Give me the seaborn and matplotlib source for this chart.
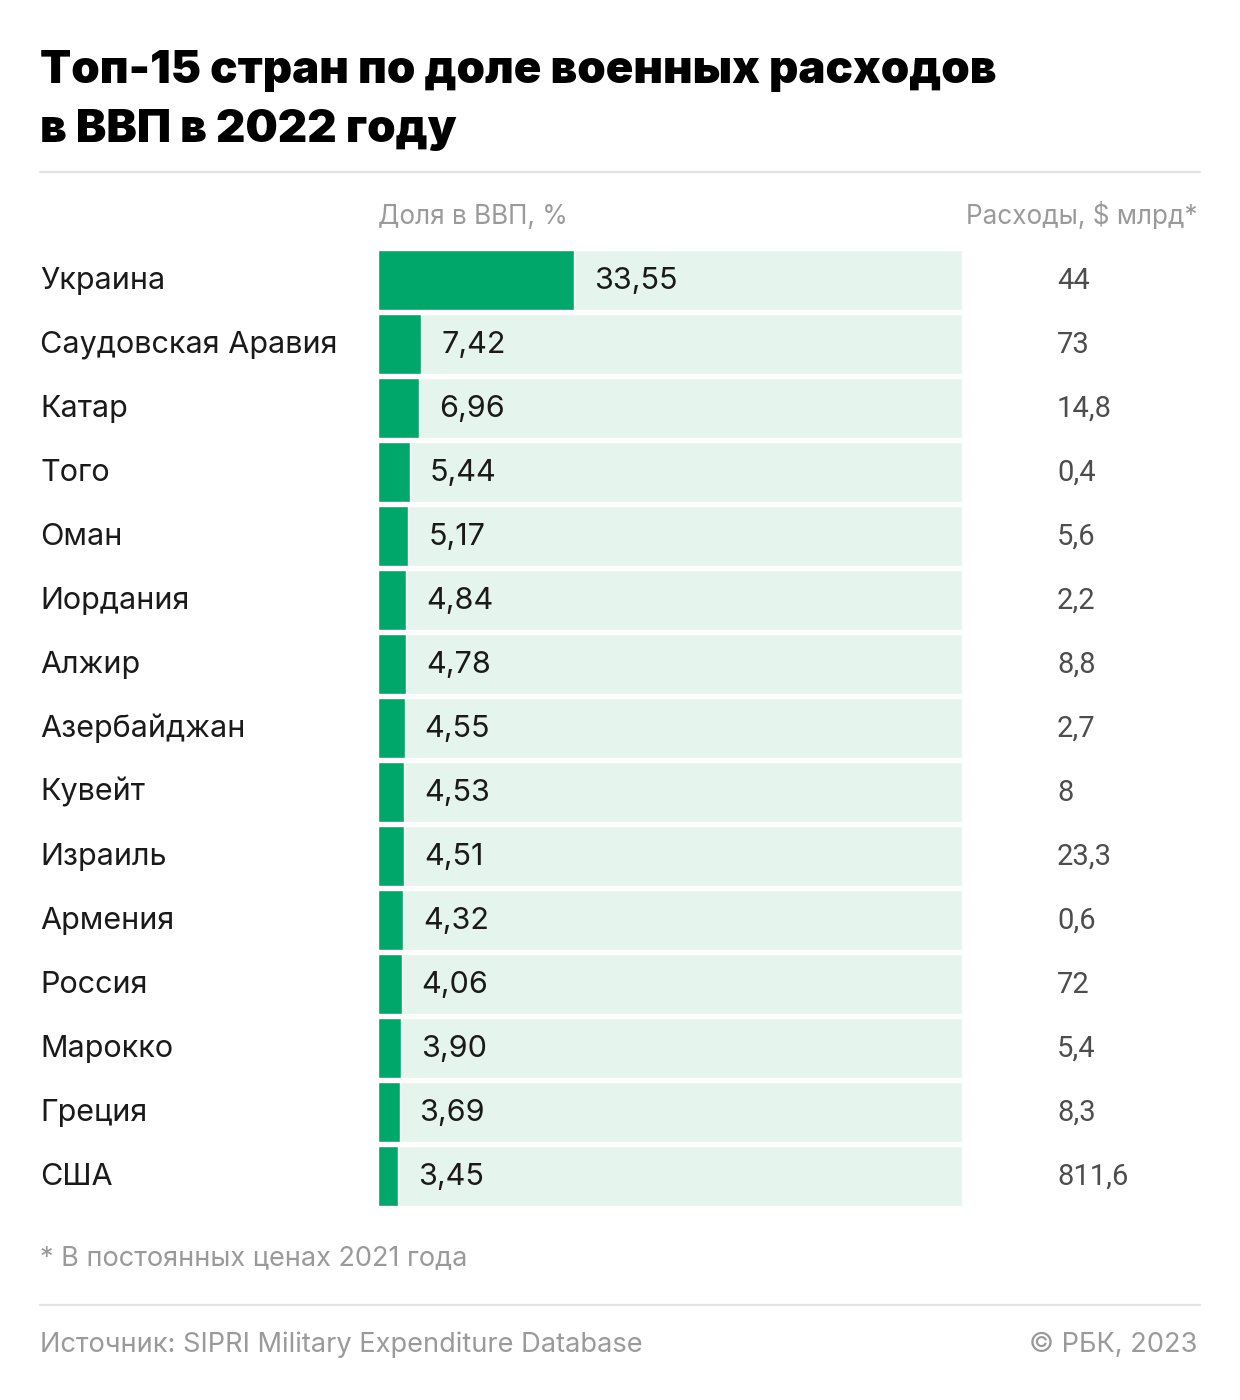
import numpy as np
import pandas as pd
import matplotlib
matplotlib.use('Agg')
from matplotlib import pyplot as plt
from matplotlib import transforms
import seaborn as sb

# data
countries = ['Украина', 'Саудовская Аравия', 'Катар', 'Того', 'Оман', 'Иордания',
             'Алжир', 'Азербайджан', 'Кувейт', 'Израиль', 'Армения', 'Россия',
             'Марокко', 'Греция', 'США']
gdp_share = [33.55, 7.42, 6.96, 5.44, 5.17, 4.84, 4.78, 4.55, 4.53, 4.51,
             4.32, 4.06, 3.90, 3.69, 3.45]
spending = ['44', '73', '14,8', '0,4', '5,6', '2,2', '8,8', '2,7', '8', '23,3',
            '0,6', '72', '5,4', '8,3', '811,6']
full_scale = 100

df = pd.DataFrame({'country': countries, 'share': gdp_share,
                   'full': [full_scale] * len(countries)})

sb.set_style('white')
plt.rcParams['font.family'] = ['Inter', 'DejaVu Sans']

W, H = 1240, 1400
fig = plt.figure(figsize=(W / 100, H / 100), dpi=100)
fig.patch.set_facecolor('white')

green = '#00a76a'
light = '#e5f5ee'
dark = '#1a1a1a'
grey = '#9a9a9a'

# bar area
ax = fig.add_axes([378 / W, 1 - 1208 / H, 584 / W, 960 / H])
sb.barplot(data=df, y='country', x='full', orient='h', color=light,
           width=0.9375, saturation=1, ax=ax)
sb.barplot(data=df, y='country', x='share', orient='h', color=green,
           width=0.9375, saturation=1, ax=ax)
ax.set_xlim(0, full_scale)
ax.set_ylim(len(countries) - 0.5, -0.5)
ax.axis('off')

row_tr = transforms.blended_transform_factory(fig.transFigure, ax.transData)
base = 0.14
for i, (c, v, s) in enumerate(zip(countries, gdp_share, spending)):
    ax.text(40 / W, i + base, c, transform=row_tr, fontsize=22, color=dark,
            va='baseline', ha='left')
    ax.annotate(f'{v:.2f}'.replace('.', ','), xy=(v, i + base),
                xytext=(14.4, 0), textcoords='offset points',
                fontsize=22, color=dark, va='baseline', ha='left')
    ax.text(1057 / W, i + base, s, transform=row_tr, fontsize=21,
            family=['Roboto', 'DejaVu Sans'],
            color='#4d4d4d', va='baseline', ha='left')

# title
for y, line in ((83, 'Топ-15 стран по доле военных расходов'),
                (142, 'в ВВП в 2022 году')):
    fig.text(40 / W, 1 - y / H, line, fontsize=32.8, fontweight='black',
             color='black', va='baseline')

# column headers
fig.text(378 / W, 1 - 224 / H, 'Доля в ВВП, %', fontsize=18.8, color=grey,
         va='baseline', ha='left')
fig.text(1198 / W, 1 - 224 / H, 'Расходы, $ млрд*', fontsize=18.8, color=grey,
         va='baseline', ha='right')

# separators
for y in (172, 1305):
    fig.add_artist(plt.Line2D([40 / W, 1200 / W], [1 - y / H, 1 - y / H],
                              color='#e3e3e3', lw=1.6, transform=fig.transFigure))

# footer
fig.text(40 / W, 1 - 1265 / H, '* В постоянных ценах 2021 года', fontsize=19.5,
         color=grey, va='baseline')
fig.text(40 / W, 1 - 1352 / H, 'Источник: SIPRI Military Expenditure Database',
         fontsize=19.6, color=grey, va='baseline')
fig.text(1197 / W, 1 - 1352 / H, '© РБК, 2023', fontsize=19.6, color=grey,
         va='baseline', ha='right')

fig.savefig('out.png', dpi=100, facecolor='white')
